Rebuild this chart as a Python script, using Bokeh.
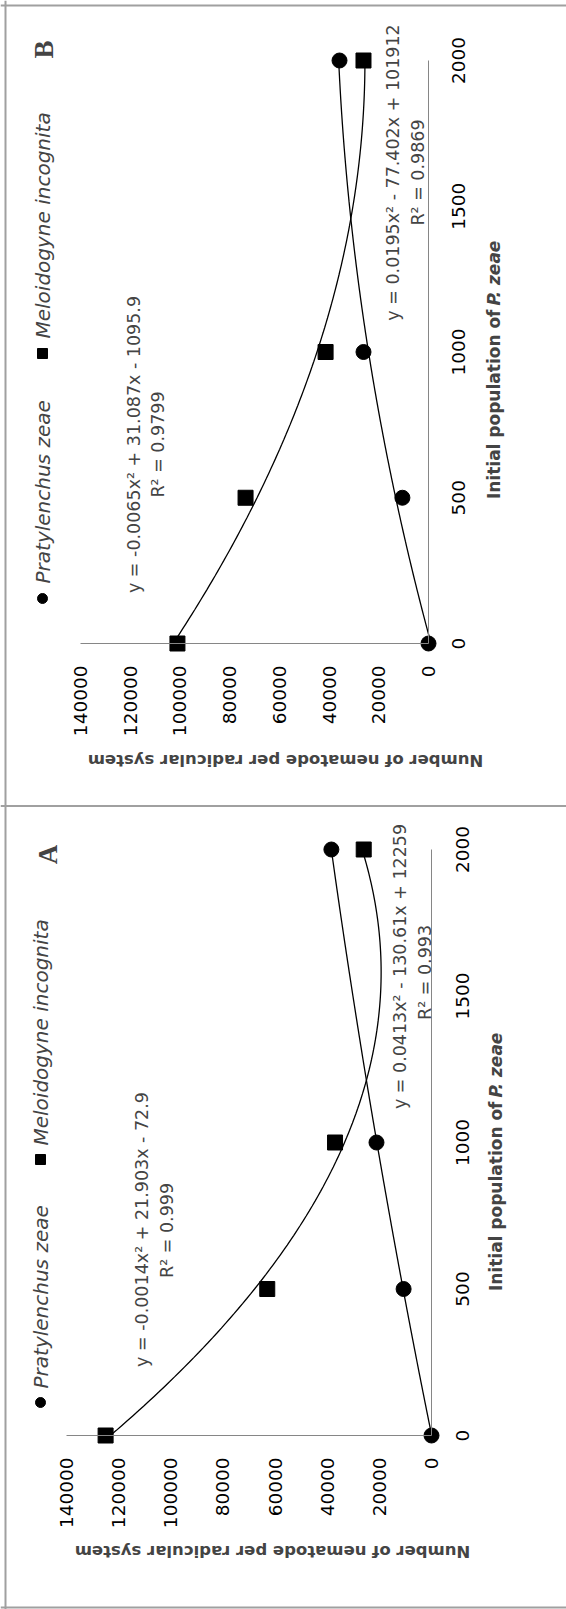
import math
import numpy as np
from bokeh.plotting import figure
from bokeh.models import Range1d, LinearAxis, FixedTicker, Label, Span, BasicTickFormatter
from bokeh.core.properties import value
from bokeh.embed import file_html
from bokeh.resources import INLINE

# ---------------- data ----------------
initial_population = [0, 500, 1000, 2000]
pz_A = [0, 10700, 21100, 38400]          # Pratylenchus zeae, panel A
mi_A = [125000, 63000, 37000, 26000]     # Meloidogyne incognita, panel A
pz_B = [0, 10500, 26150, 35800]          # Pratylenchus zeae, panel B
mi_B = [101000, 73600, 41400, 26150]     # Meloidogyne incognita, panel B
nematode_ticks = [0, 20000, 40000, 60000, 80000, 100000, 120000, 140000]
population_ticks = [0, 500, 1000, 1500, 2000]
legend_labels = ["Pratylenchus zeae", "Meloidogyne incognita"]
eq_A = ["y = -0.0014x² + 21.903x - 72.9", "R² = 0.999",
        "y = 0.0413x² - 130.61x + 12259", "R² = 0.993"]
eq_B = ["y = -0.0065x² + 31.087x - 1095.9", "R² = 0.9799",
        "y = 0.0195x² - 77.402x + 101912", "R² = 0.9869"]
x_title = "Number of nematode per radicular system"
y_title = ["Initial population of", "P. zeae"]

# ---------------- layout (page pixels) ----------------
OX, OY = 0, 0
W, H = 566, 1609
FONT = "DejaVu Sans"
GREY = "#a0a0a0"
AXIS_GREY = "#868686"

layout = {
    "A": dict(x0=431, x140=66, y0=1435, y2000=849,
              leg_x=40, circ_y=1402, pz_y=1388, sq_y=1159, mi_y=1145,
              letter=(47, 854), eq1=(141, 1229), r1=(166, 1230),
              eq2=(399, 966), r2=(424, 972), xt=(272, 1551),
              yt_x=495, yt_r=1101, yt_l=1097, tick_dx=31,
              pz=pz_A, mi=mi_A, eqs=eq_A),
    "B": dict(x0=428, x140=80, y0=643, y2000=60,
              leg_x=42, circ_y=598, pz_y=583, sq_y=353, mi_y=338,
              letter=(43, 49), eq1=(133, 444), r1=(157, 444),
              eq2=(392, 172), r2=(417, 172), xt=(285, 760),
              yt_x=493, yt_r=309, yt_l=305, tick_dx=30,
              pz=pz_B, mi=mi_B, eqs=eq_B),
}


def extra_range(p0, p1, vmax, lo, hi):
    s = (p1 - p0) / vmax
    return Range1d(start=(lo - p0) / s, end=(hi - p0) / s)


p = figure(width=W, height=H, output_backend="svg", toolbar_location=None,
           x_range=Range1d(OX, OX + W), y_range=Range1d(OY + H, OY),
           x_axis_location=None, y_axis_location=None, min_border=0,
           outline_line_color=None, background_fill_color="white",
           border_fill_color="white")
p.grid.visible = False

# cell borders
for loc in (5, 805.5, 1607):
    p.add_layout(Span(location=loc, dimension="width", line_color=GREY, line_width=2))
p.add_layout(Span(location=5, dimension="height", line_color=GREY, line_width=2))

pop_grid = np.linspace(0, 2000, 121)

for key, L in layout.items():
    xr, yr = "x" + key, "y" + key
    p.extra_x_ranges[xr] = extra_range(L["x0"], L["x140"], 140000, OX, OX + W)
    p.extra_y_ranges[yr] = extra_range(L["y0"], L["y2000"], 2000, OY + H, OY)

    common = dict(x_range_name=xr, y_range_name=yr, fixed_location=0,
                  major_tick_in=0, major_tick_out=0, minor_tick_in=0, minor_tick_out=0,
                  axis_line_color=AXIS_GREY, axis_line_width=1,
                  formatter=BasicTickFormatter(use_scientific=False))
    ax_n = LinearAxis(bounds=(0, 140000), ticker=FixedTicker(ticks=nematode_ticks),
                      major_label_standoff=22, major_label_orientation=math.pi / 2,
                      major_label_text_font=FONT, major_label_text_font_size="18.5px",
                      major_label_text_color="black", **common)
    p.add_layout(ax_n, "below")
    ax_p = LinearAxis(bounds=(0, 2000), ticker=FixedTicker(ticks=population_ticks),
                      major_label_text_font_size="0px", major_label_text_alpha=0, **common)
    p.add_layout(ax_p, "right")
    # population tick labels, centred on their ticks and reading upwards
    p.text(x=[0] * len(population_ticks), y=population_ticks,
           text=[str(t) for t in population_ticks], angle=math.pi / 2,
           x_offset=L["tick_dx"], x_range_name=xr, y_range_name=yr,
           text_align="center", text_baseline="middle", text_color="black",
           text_font=value(FONT), text_font_size=value("18.5px"))

    # trend lines (quadratic fits of the data)
    for series in (L["pz"], L["mi"]):
        coef = np.polyfit(initial_population, series, 2)
        p.line(np.polyval(coef, pop_grid), pop_grid, x_range_name=xr, y_range_name=yr,
               line_color="black", line_width=1.3)

    p.scatter(L["pz"], initial_population, x_range_name=xr, y_range_name=yr,
              marker="circle", size=15, fill_color="black", line_color="black")
    p.scatter(L["mi"], initial_population, x_range_name=xr, y_range_name=yr,
              marker="square", size=15, fill_color="black", line_color="black")

    # legend
    p.scatter([L["leg_x"]], [L["circ_y"]], marker="circle", size=10, color="black")
    p.scatter([L["leg_x"]], [L["sq_y"]], marker="square", size=10, color="black")
    for text, y0 in ((legend_labels[0], L["pz_y"]), (legend_labels[1], L["mi_y"])):
        p.add_layout(Label(x=L["leg_x"], y=y0, text=text, angle=math.pi / 2,
                           text_align="left", text_baseline="middle", text_font=FONT,
                           text_font_style="italic", text_font_size="20px"))

    # panel letter
    p.add_layout(Label(x=L["letter"][0], y=L["letter"][1], text=key, angle=math.pi / 2,
                       text_align="center", text_baseline="middle",
                       text_font="Liberation Serif", text_font_style="bold",
                       text_font_size="27px"))

    # equations
    for text, pos in zip(L["eqs"], (L["eq1"], L["r1"], L["eq2"], L["r2"])):
        p.add_layout(Label(x=pos[0], y=pos[1], text=text, angle=math.pi / 2,
                           text_align="center", text_baseline="middle",
                           text_font=FONT, text_font_size="17.5px"))

    # axis titles
    p.add_layout(Label(x=L["xt"][0], y=L["xt"][1], text=x_title, angle=math.pi,
                       text_align="center", text_baseline="middle", text_font=FONT,
                       text_font_style="bold", text_font_size="16.5px"))
    p.add_layout(Label(x=L["yt_x"], y=L["yt_r"], text=y_title[0], angle=math.pi / 2,
                       text_align="right", text_baseline="middle", text_font=FONT,
                       text_font_style="bold", text_font_size="17px"))
    p.add_layout(Label(x=L["yt_x"], y=L["yt_l"], text=y_title[1], angle=math.pi / 2,
                       text_align="left", text_baseline="middle", text_font=FONT,
                       text_font_style="bold italic", text_font_size="17px"))

open("out.html", "w").write(file_html(p, INLINE))
